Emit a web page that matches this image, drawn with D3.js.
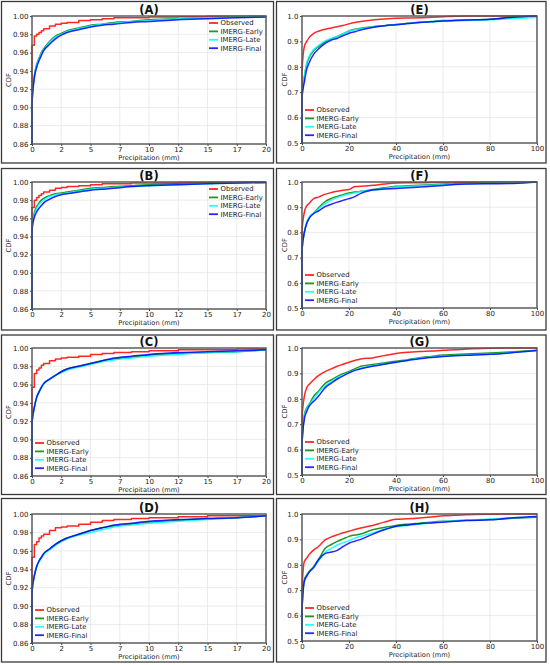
<!DOCTYPE html>
<html>
<head>
<meta charset="utf-8">
<script src="https://cdn.jsdelivr.net/npm/d3@7"></script>
<style>
  body { margin: 0; background: #fff; }
  svg { display: block; font-family: "DejaVu Sans", sans-serif; }
</style>
</head>
<body>
<svg id="chart" width="550" height="665"></svg>
<script>
// precipitation grids (mm) the CDF values are read at
const xLeft = [0, 0.2, 0.4, 0.6, 0.8, 1, 1.5, 2, 2.5, 3, 4, 5, 6, 7, 8.5, 10, 12.5, 15, 17.5, 20];
const xRight = [0, 1, 2, 3, 5, 7, 10, 12.5, 15, 17.5, 20, 22.5, 25, 30, 35, 40, 45, 50, 55, 60, 65, 70, 80, 90, 100];

const seriesNames = ['Observed', 'IMERG-Early', 'IMERG-Late', 'IMERG-Final'];
const seriesColors = ['#ff0000', '#008000', '#00ffff', '#0000ff'];

const xTicksLeft = [0, 2.5, 5, 7.5, 10, 12.5, 15, 17.5, 20];
const xTickLabelsLeft = ['0', '2', '5', '7', '10', '12', '15', '17', '20'];
const yTicksLeft = [0.86, 0.88, 0.90, 0.92, 0.94, 0.96, 0.98, 1.00];
const xTicksRight = [0, 20, 40, 60, 80, 100];
const yTicksRight = [0.5, 0.6, 0.7, 0.8, 0.9, 1.0];

// (A)
const obsA = [0.968, 0.978, 0.980, 0.982, 0.984, 0.986, 0.989, 0.991, 0.992, 0.993, 0.995, 0.996, 0.997, 0.998, 0.998, 0.999, 0.9993, 0.9996, 0.9998, 1.0];
const earlyA = [0.905, 0.935, 0.947, 0.954, 0.960, 0.964, 0.972, 0.978, 0.981, 0.984, 0.987, 0.990, 0.991, 0.993, 0.994, 0.996, 0.997, 0.998, 0.999, 0.9995];
const lateA = [0.905, 0.934, 0.946, 0.953, 0.959, 0.963, 0.971, 0.977, 0.980, 0.983, 0.986, 0.989, 0.991, 0.992, 0.994, 0.995, 0.997, 0.998, 0.999, 0.9995];
const finalA = [0.903, 0.932, 0.944, 0.951, 0.957, 0.962, 0.969, 0.975, 0.979, 0.982, 0.985, 0.988, 0.990, 0.991, 0.993, 0.994, 0.996, 0.997, 0.998, 0.999];
// (B)
const obsB = [0.972, 0.980, 0.983, 0.985, 0.987, 0.989, 0.991, 0.993, 0.994, 0.995, 0.996, 0.997, 0.998, 0.998, 0.999, 0.999, 0.9995, 0.9997, 0.9999, 1.0];
const earlyB = [0.950, 0.966, 0.973, 0.977, 0.980, 0.982, 0.985, 0.987, 0.988, 0.989, 0.991, 0.993, 0.994, 0.995, 0.996, 0.997, 0.998, 0.999, 0.9993, 0.9995];
const lateB = [0.949, 0.964, 0.971, 0.975, 0.978, 0.980, 0.984, 0.986, 0.987, 0.988, 0.990, 0.992, 0.993, 0.994, 0.995, 0.996, 0.997, 0.998, 0.999, 0.9995];
const finalB = [0.947, 0.961, 0.967, 0.971, 0.974, 0.977, 0.981, 0.984, 0.986, 0.987, 0.989, 0.991, 0.992, 0.993, 0.995, 0.996, 0.997, 0.998, 0.999, 0.9995];
// (C)
const obsC = [0.957, 0.972, 0.976, 0.978, 0.981, 0.983, 0.986, 0.988, 0.989, 0.990, 0.991, 0.993, 0.994, 0.995, 0.996, 0.997, 0.998, 0.998, 0.999, 0.999];
const earlyC = [0.918, 0.935, 0.946, 0.952, 0.957, 0.961, 0.966, 0.970, 0.974, 0.977, 0.980, 0.983, 0.986, 0.988, 0.990, 0.992, 0.994, 0.995, 0.996, 0.998];
const lateC = [0.918, 0.935, 0.946, 0.952, 0.957, 0.961, 0.966, 0.970, 0.973, 0.976, 0.979, 0.982, 0.985, 0.987, 0.989, 0.991, 0.993, 0.995, 0.996, 0.998];
const finalC = [0.918, 0.935, 0.946, 0.952, 0.957, 0.961, 0.966, 0.970, 0.974, 0.977, 0.980, 0.983, 0.986, 0.989, 0.991, 0.993, 0.995, 0.996, 0.997, 0.998];
// (D)
const obsD = [0.953, 0.967, 0.970, 0.974, 0.976, 0.978, 0.982, 0.985, 0.986, 0.987, 0.989, 0.991, 0.993, 0.994, 0.995, 0.996, 0.997, 0.998, 0.998, 0.999];
const earlyD = [0.915, 0.933, 0.943, 0.949, 0.953, 0.957, 0.962, 0.967, 0.971, 0.974, 0.978, 0.982, 0.985, 0.987, 0.989, 0.991, 0.993, 0.995, 0.996, 0.998];
const lateD = [0.915, 0.933, 0.943, 0.948, 0.952, 0.956, 0.961, 0.966, 0.970, 0.973, 0.977, 0.980, 0.983, 0.986, 0.988, 0.990, 0.992, 0.994, 0.996, 0.998];
const finalD = [0.915, 0.933, 0.943, 0.949, 0.953, 0.957, 0.962, 0.967, 0.971, 0.974, 0.978, 0.982, 0.985, 0.988, 0.990, 0.992, 0.994, 0.995, 0.996, 0.998];
// (E)
const obsE = [0.78, 0.88, 0.90, 0.915, 0.932, 0.940, 0.948, 0.953, 0.958, 0.963, 0.969, 0.974, 0.978, 0.984, 0.988, 0.991, 0.992, 0.993, 0.995, 0.997, 0.999, 1.0, 1.0, 1.0, 1.0];
const earlyE = [0.68, 0.76, 0.81, 0.835, 0.864, 0.879, 0.899, 0.910, 0.919, 0.930, 0.941, 0.948, 0.952, 0.958, 0.962, 0.967, 0.971, 0.975, 0.978, 0.982, 0.983, 0.984, 0.987, 0.997, 1.0];
const lateE = [0.68, 0.76, 0.815, 0.84, 0.868, 0.884, 0.903, 0.912, 0.920, 0.930, 0.940, 0.946, 0.950, 0.957, 0.962, 0.966, 0.970, 0.974, 0.977, 0.980, 0.981, 0.982, 0.985, 0.990, 0.995];
const finalE = [0.68, 0.74, 0.79, 0.815, 0.850, 0.870, 0.893, 0.905, 0.912, 0.922, 0.932, 0.938, 0.945, 0.955, 0.962, 0.966, 0.970, 0.974, 0.977, 0.980, 0.982, 0.984, 0.987, 0.995, 1.0];
// (F)
const obsF = [0.80, 0.88, 0.905, 0.915, 0.934, 0.940, 0.952, 0.958, 0.963, 0.967, 0.970, 0.982, 0.983, 0.987, 0.992, 0.996, 0.997, 0.997, 0.998, 0.998, 0.999, 0.999, 1.0, 1.0, 1.0];
const earlyF = [0.73, 0.80, 0.837, 0.857, 0.877, 0.897, 0.923, 0.935, 0.943, 0.950, 0.956, 0.960, 0.963, 0.970, 0.977, 0.983, 0.985, 0.987, 0.989, 0.991, 0.993, 0.994, 0.996, 0.998, 1.0];
const lateF = [0.73, 0.80, 0.840, 0.860, 0.877, 0.893, 0.915, 0.928, 0.938, 0.946, 0.952, 0.957, 0.962, 0.968, 0.974, 0.980, 0.983, 0.985, 0.987, 0.989, 0.991, 0.993, 0.995, 0.997, 1.0];
const finalF = [0.73, 0.80, 0.835, 0.855, 0.875, 0.885, 0.903, 0.912, 0.920, 0.927, 0.934, 0.942, 0.955, 0.968, 0.972, 0.974, 0.977, 0.980, 0.983, 0.986, 0.990, 0.992, 0.993, 0.994, 1.0];
// (G)
const obsG = [0.72, 0.81, 0.843, 0.856, 0.875, 0.891, 0.908, 0.918, 0.928, 0.936, 0.944, 0.951, 0.957, 0.961, 0.970, 0.978, 0.983, 0.986, 0.988, 0.991, 0.993, 0.996, 0.999, 1.0, 1.0];
const earlyG = [0.62, 0.737, 0.764, 0.777, 0.810, 0.830, 0.862, 0.875, 0.888, 0.899, 0.908, 0.918, 0.928, 0.935, 0.941, 0.948, 0.954, 0.962, 0.967, 0.972, 0.974, 0.976, 0.980, 0.985, 0.991];
const lateG = [0.62, 0.730, 0.760, 0.775, 0.800, 0.825, 0.852, 0.868, 0.882, 0.893, 0.903, 0.912, 0.920, 0.930, 0.937, 0.944, 0.952, 0.960, 0.965, 0.968, 0.970, 0.972, 0.976, 0.983, 0.990];
const finalG = [0.62, 0.720, 0.750, 0.770, 0.790, 0.810, 0.845, 0.862, 0.878, 0.890, 0.902, 0.912, 0.918, 0.928, 0.936, 0.944, 0.951, 0.958, 0.963, 0.967, 0.969, 0.971, 0.975, 0.982, 0.990];
// (H)
const obsH = [0.70, 0.813, 0.826, 0.840, 0.859, 0.872, 0.899, 0.910, 0.918, 0.926, 0.932, 0.939, 0.945, 0.955, 0.968, 0.979, 0.981, 0.984, 0.988, 0.993, 0.995, 0.997, 0.999, 1.0, 1.0];
const earlyH = [0.62, 0.741, 0.760, 0.774, 0.793, 0.820, 0.866, 0.880, 0.892, 0.902, 0.912, 0.917, 0.921, 0.938, 0.947, 0.955, 0.960, 0.964, 0.968, 0.971, 0.973, 0.975, 0.978, 0.983, 0.987];
const lateH = [0.62, 0.735, 0.755, 0.770, 0.790, 0.815, 0.850, 0.865, 0.878, 0.887, 0.895, 0.905, 0.912, 0.925, 0.940, 0.950, 0.955, 0.960, 0.965, 0.970, 0.973, 0.976, 0.980, 0.985, 0.990];
const finalH = [0.62, 0.735, 0.755, 0.770, 0.790, 0.820, 0.845, 0.850, 0.857, 0.872, 0.885, 0.893, 0.900, 0.920, 0.938, 0.952, 0.957, 0.962, 0.965, 0.968, 0.971, 0.974, 0.977, 0.985, 0.990];

// layout: outer box [x0, y0, x1, y1] and plot area [left, top, right, bottom]
const panels = [
  { label: '(A)', side: 'left', legend: 'upper', values: [obsA, earlyA, lateA, finalA], box: [1.5, 1.5, 273.5, 163], plot: [32, 16, 266, 144] },
  { label: '(B)', side: 'left', legend: 'upper', values: [obsB, earlyB, lateB, finalB], box: [1.5, 168.5, 273.5, 330], plot: [32, 182, 266, 309] },
  { label: '(C)', side: 'left', legend: 'lower', values: [obsC, earlyC, lateC, finalC], box: [1.5, 335, 273.5, 494.5], plot: [32, 348, 266, 476] },
  { label: '(D)', side: 'left', legend: 'lower', values: [obsD, earlyD, lateD, finalD], box: [1.5, 498.5, 273.5, 662], plot: [32, 514, 266, 643] },
  { label: '(E)', side: 'right', legend: 'lower', values: [obsE, earlyE, lateE, finalE], box: [276.5, 1.5, 546, 163], plot: [302, 16, 537, 143] },
  { label: '(F)', side: 'right', legend: 'lower', values: [obsF, earlyF, lateF, finalF], box: [276.5, 168.5, 546, 330], plot: [302, 182, 537, 308] },
  { label: '(G)', side: 'right', legend: 'lower', values: [obsG, earlyG, lateG, finalG], box: [276.5, 335, 546, 494.5], plot: [302, 348, 537, 475] },
  { label: '(H)', side: 'right', legend: 'lower', values: [obsH, earlyH, lateH, finalH], box: [276.5, 498.5, 546, 662], plot: [302, 514, 537, 641] }
];

const svg = d3.select('#chart');

function drawPanel(p, index) {
  const [left, top, right, bottom] = p.plot;
  const isLeft = p.side == 'left';
  const xs = isLeft ? xLeft : xRight;
  const xDomain = isLeft ? [0, 20] : [0, 100];
  const yDomain = isLeft ? [0.86, 1.0] : [0.5, 1.0];
  const xTicks = isLeft ? xTicksLeft : xTicksRight;
  const yTicks = isLeft ? yTicksLeft : yTicksRight;

  const x = d3.scaleLinear().domain(xDomain).range([left, right]);
  const y = d3.scaleLinear().domain(yDomain).range([bottom, top]);

  const g = svg.append('g').attr('class', 'panel');

  // outer frame
  g.append('rect')
    .attr('x', p.box[0]).attr('y', p.box[1])
    .attr('width', p.box[2] - p.box[0]).attr('height', p.box[3] - p.box[1])
    .attr('fill', 'none').attr('stroke', '#3a3a3a').attr('stroke-width', 1.3);

  // grid
  g.append('g').selectAll('line').data(xTicks).join('line')
    .attr('x1', d => x(d)).attr('x2', d => x(d))
    .attr('y1', top).attr('y2', bottom)
    .attr('stroke', '#e3e3e3').attr('stroke-width', 0.7);
  g.append('g').selectAll('line').data(yTicks).join('line')
    .attr('x1', left).attr('x2', right)
    .attr('y1', d => y(d)).attr('y2', d => y(d))
    .attr('stroke', '#e3e3e3').attr('stroke-width', 0.7);

  // axes
  const xAxis = d3.axisBottom(x).tickValues(xTicks).tickSize(2).tickPadding(0.8)
    .tickFormat((d, i) => isLeft ? xTickLabelsLeft[i] : String(d));
  const yAxis = d3.axisLeft(y).tickValues(yTicks).tickSize(2).tickPadding(1.5)
    .tickFormat(isLeft ? d3.format('.2f') : d3.format('.1f'));

  const gx = g.append('g').attr('transform', `translate(0,${bottom})`).call(xAxis);
  const gy = g.append('g').attr('transform', `translate(${left},0)`).call(yAxis);
  [gx, gy].forEach(a => {
    a.select('.domain').remove();
    a.selectAll('line').attr('stroke', '#444');
    a.selectAll('text').attr('font-size', 7).attr('fill', '#222')
      .attr('font-family', '"DejaVu Sans", sans-serif');
  });

  // clip to plot
  const clipId = 'clip' + index;
  g.append('clipPath').attr('id', clipId).append('rect')
    .attr('x', left - 1).attr('y', top - 1.5)
    .attr('width', right - left + 2).attr('height', bottom - top + 2.5);

  const lines = g.append('g').attr('clip-path', `url(#${clipId})`);
  p.values.forEach((vals, si) => {
    const pts = [[0, yDomain[0]]].concat(xs.map((xv, i) => [xv, vals[i]]));
    const curve = (si == 0 && isLeft) ? d3.curveStepAfter : d3.curveMonotoneX;
    const line = d3.line().x(d => x(d[0])).y(d => y(d[1])).curve(curve);
    lines.append('path')
      .attr('d', line(pts))
      .attr('fill', 'none')
      .attr('stroke', seriesColors[si])
      .attr('stroke-width', 1.5)
      .attr('stroke-opacity', 0.85)
      .attr('stroke-linejoin', 'round');
  });

  // spines
  g.append('rect')
    .attr('x', left).attr('y', top)
    .attr('width', right - left).attr('height', bottom - top)
    .attr('fill', 'none').attr('stroke', '#555').attr('stroke-width', 1.4);

  // title
  g.append('text')
    .attr('x', (left + right) / 2).attr('y', top - 1.8)
    .attr('text-anchor', 'middle')
    .attr('font-size', 11.5).attr('font-weight', 'bold').attr('fill', '#111')
    .text(p.label);

  // axis labels
  g.append('text')
    .attr('x', (left + right) / 2).attr('y', bottom + 15.5)
    .attr('text-anchor', 'middle')
    .attr('font-size', 6.6).attr('fill', '#222')
    .text('Precipitation (mm)');
  const cdfX = isLeft ? 11 : left - 15.5;
  const cdfY = (top + bottom) / 2;
  g.append('text')
    .attr('transform', `translate(${cdfX},${cdfY}) rotate(-90)`)
    .attr('text-anchor', 'middle')
    .attr('font-size', 6.8).attr('fill', '#222')
    .text('CDF');

  // legend
  const lx = p.legend == 'upper' ? right - 57 : left + 3;
  const ly = p.legend == 'upper' ? top + 7 : bottom - 33;
  const legend = g.append('g').attr('transform', `translate(${lx},${ly})`);
  const items = legend.selectAll('g').data(seriesNames).join('g')
    .attr('transform', (_, i) => `translate(0,${i * 8.4})`);
  items.append('line')
    .attr('x1', 0).attr('x2', 9).attr('y1', 0).attr('y2', 0)
    .attr('stroke', (_, i) => seriesColors[i]).attr('stroke-width', 1.8)
    .attr('stroke-opacity', 0.85);
  items.append('text')
    .attr('x', 11.5).attr('y', 0).attr('dy', '0.35em')
    .attr('font-size', 6.9).attr('fill', '#222')
    .text(d => d);
}

panels.forEach(drawPanel);
</script>
</body>
</html>
